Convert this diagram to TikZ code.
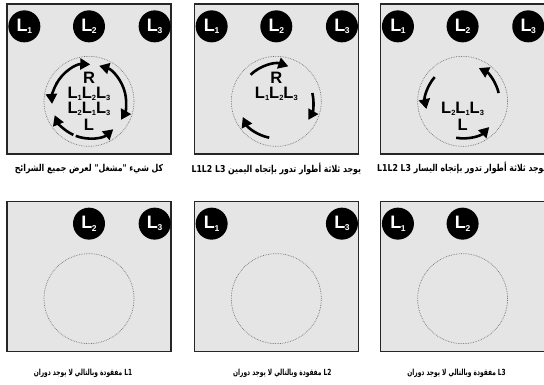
\documentclass[tikz,border=0pt]{standalone}
\usepackage{fontspec}
\setmainfont{Liberation Sans}
\newfontfamily\arabicfont[Script=Arabic, FakeStretch=0.82]{DejaVu Sans}
\newfontfamily\arabicnarrow[Script=Arabic, FakeStretch=0.7]{DejaVu Sans}
\TeXXeTstate=1
\usetikzlibrary{arrows.meta,positioning,calc}

\newcommand{\Lp}[1]{L\kern-0.02em\raisebox{-0.25ex}{\fontsize{8.5}{8.5}\selectfont #1}}
\newcommand{\Ls}[1]{L\raisebox{-0.25ex}{\fontsize{7.5}{7.5}\selectfont #1}}

\begin{document}
\begin{tikzpicture}[x=1pt, y=1pt, node distance=22pt,
  panel/.style={rectangle, draw=black!85, line width=1.3pt, fill=black!10, minimum width=164pt, minimum height=150pt, inner sep=0pt},
  phase/.style={circle, fill=black, text=white, minimum size=32pt, inner sep=0pt, font=\bfseries\fontsize{18}{18}\selectfont},
  ring/.style={circle, draw=black!55, densely dotted, line width=0.7pt, minimum size=90pt, inner sep=0pt},
  turn/.style={line width=2.6pt, -{Triangle[length=10pt, width=11pt]}},
  seq/.style={inner sep=0pt, text height=12pt, text depth=1.5pt, font=\bfseries\fontsize{16.5}{16.5}\selectfont},
  note/.style={inner sep=0pt, font=\arabicfont\bfseries\fontsize{9.5}{10}\selectfont},
  smallnote/.style={inner sep=0pt, font=\arabicnarrow\bfseries\fontsize{8.4}{9}\selectfont}]
\useasboundingbox (0,0) rectangle (544,-385);

  \node[panel] (p1) at (89,-79) {};
  \node[panel, right=of p1] (p2) {};
  \node[panel, right=21pt of p2] (p3) {};
  \node[panel, below=46pt of p1] (p4) {};
  \node[panel, right=of p4] (p5) {};
  \node[panel, right=21pt of p5] (p6) {};

  % phases on top of each panel
  \node[phase] (a1) at ($(p1.north west)+(18,-23)$) {\Lp1};
  \node[phase] (a2) at ($(p1.north)+(0,-23)$) {\Lp2};
  \node[phase] (a3) at ($(p1.north east)+(-17,-23)$) {\Lp3};
  \node[phase] (b1) at ($(p2.north west)+(18,-23)$) {\Lp1};
  \node[phase] (b2) at ($(p2.north)+(0,-23)$) {\Lp2};
  \node[phase] (b3) at ($(p2.north east)+(-17,-23)$) {\Lp3};
  \node[phase] (c1) at ($(p3.north west)+(18,-23)$) {\Lp1};
  \node[phase] (c2) at ($(p3.north)+(0,-23)$) {\Lp2};
  \node[phase] (c3) at ($(p3.north east)+(-17,-23)$) {\Lp3};
  \node[phase] (d2) at ($(p4.north)+(0,-23)$) {\Lp2};
  \node[phase] (d3) at ($(p4.north east)+(-17,-23)$) {\Lp3};
  \node[phase] (e1) at ($(p5.north west)+(18,-23)$) {\Lp1};
  \node[phase] (e3) at ($(p5.north east)+(-17,-23)$) {\Lp3};
  \node[phase] (f1) at ($(p6.north west)+(18,-23)$) {\Lp1};
  \node[phase] (f2) at ($(p6.north)+(0,-23)$) {\Lp2};

  \node[ring] (r1) at ($(p1.north)+(0,-98)$) {};
  \node[ring] (r2) at ($(p2.north)+(0,-98)$) {};
  \node[ring] (r3) at ($(p3.north)+(0,-98)$) {};
  \node[ring] (r4) at ($(p4.north)+(0,-98)$) {};
  \node[ring] (r5) at ($(p5.north)+(0,-98)$) {};
  \node[ring] (r6) at ($(p6.north)+(0,-98)$) {};

  % sequences
  \node[seq] (s1) at ($(r1)+(0,8)$) {\Ls1\Ls2\Ls3};
  \node[seq] (s1b) at ($(r1)+(0,-7)$) {\Ls2\Ls1\Ls3};
  \node[seq, text depth=0pt] (cw1) at ($(r1)+(0,24)$) {R};
  \node[seq, text depth=0pt] (ccw1) at ($(r1)+(0,-23)$) {L};
  \node[seq] (s2) at ($(r2)+(0,8)$) {\Ls1\Ls2\Ls3};
  \node[seq, text depth=0pt] (cw2) at ($(r2)+(0,24)$) {R};
  \node[seq] (s3) at ($(r3)+(0,-7)$) {\Ls2\Ls1\Ls3};
  \node[seq, text depth=0pt] (ccw3) at ($(r3)+(0,-23)$) {L};

  % rotation arrows
  \draw[turn] ($(r1)+(152:37)$) arc[start angle=152, end angle=88, radius=37];
  \draw[turn] ($(r1)+(13:37)$) arc[start angle=13, end angle=-30, radius=37];
  \draw[turn] ($(r1)+(245:37)$) arc[start angle=245, end angle=202, radius=37];
  \draw[turn] ($(r1)+(150:37)$) arc[start angle=150, end angle=184, radius=37];
  \draw[turn] ($(r1)+(13:37)$) arc[start angle=13, end angle=74, radius=37];
  \draw[turn] ($(r1)+(249:37)$) arc[start angle=249, end angle=311, radius=37];
  \draw[turn] ($(r2)+(134:37)$) arc[start angle=134, end angle=71, radius=37];
  \draw[turn] ($(r2)+(13:37)$) arc[start angle=13, end angle=-30, radius=37];
  \draw[turn] ($(r2)+(-101:37)$) arc[start angle=-101, end angle=-155, radius=37];
  \draw[turn] ($(r3)+(13:37)$) arc[start angle=13, end angle=64, radius=37];
  \draw[turn] ($(r3)+(139:37)$) arc[start angle=139, end angle=192, radius=37];
  \draw[turn] ($(r3)+(-100:37)$) arc[start angle=-100, end angle=-44, radius=37];

  % captions
  \node[note] (t1) at ($(p1.south)+(0,-14)$) {\beginR كل شيء "مشغل" لعرض جميع الشرائح\endR};
  \node[note] (t2) at ($(p2.south)+(0,-14)$) {\beginR يوجد ثلاثة أطوار تدور بإتجاه اليمين \beginL L1L2 L3\endL\endR};
  \node[note, anchor=west] (t3) at (377,-168) {\beginR يوجد ثلاثة أطوار تدور بإتجاه اليسار \beginL L1L2 L3\endL\endR};
  \node[smallnote] (t4) at ($(p4.south)+(-6,-21)$) {\beginR \beginL L1\endL{} مفقودة وبالتالي لا يوجد دوران\endR};
  \node[smallnote] (t5) at ($(p5.south)+(6,-21)$) {\beginR \beginL L2\endL{} مفقودة وبالتالي لا يوجد دوران\endR};
  \node[smallnote] (t6) at ($(p6.south)+(-6,-21)$) {\beginR \beginL L3\endL{} مفقودة وبالتالي لا يوجد دوران\endR};
\end{tikzpicture}
\end{document}
